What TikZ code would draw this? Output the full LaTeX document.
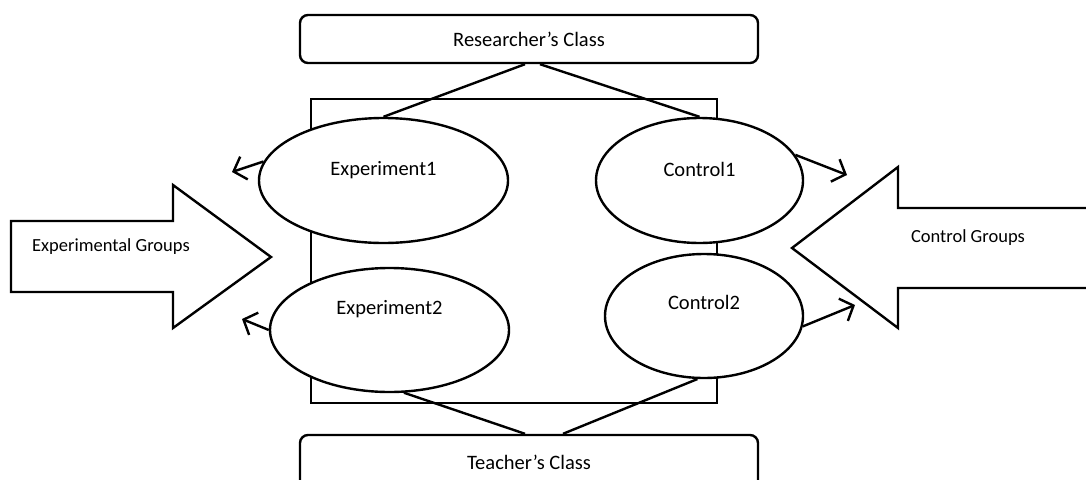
\documentclass[tikz,border=0pt]{standalone}
\usepackage{fontspec}
\setmainfont{Carlito}
\usetikzlibrary{shapes.geometric, arrows.meta}

\begin{document}
\begin{tikzpicture}[x=1pt, y=-1pt, line width=2.4pt,
    classbox/.style={draw, rounded corners=8pt, minimum width=458pt, minimum height=48pt, font=\fontsize{20.5}{24}\selectfont},
    group/.style={draw, fill=white, ellipse, inner sep=0pt},
    grouplabel/.style={font=\fontsize{20.5}{24}\selectfont},
    barb/.style={-{Straight Barb[length=11pt, width=24pt]}},
    bigarrow/.style={draw, fill=white, line join=miter}]
      \useasboundingbox (0,0) rectangle (1086,479);
      \draw (311,99) rectangle (717,403);
      \node[group, minimum width=249pt, minimum height=125pt, label={[grouplabel, yshift=10pt]center:Experiment1}] (exp1) at (383.5,180.5) {};
      \node[group, minimum width=207pt, minimum height=125pt, label={[grouplabel, yshift=11pt]center:Control1}] (ctrl1) at (699.5,180.5) {};
      \node[group, minimum width=239pt, minimum height=124pt, label={[grouplabel, yshift=21pt]center:Experiment2}] (exp2) at (389.5,330) {};
      \node[group, minimum width=198pt, minimum height=124pt, label={[grouplabel, yshift=14pt]center:Control2}] (ctrl2) at (704,316) {};
      \node[classbox] (researcher) at (529,39) {Researcher’s Class};
      \node[classbox, minimum height=55pt] (teacher) at (529,462.5) {Teacher’s Class};
      % lines to the classes
      \draw ([xshift=-4pt]researcher.south) -- (exp1.north);
      \draw ([xshift=11pt]researcher.south) -- (ctrl1.north);
      \draw (exp2.-77) -- ([xshift=-4pt]teacher.north);
      \draw (ctrl2.-96) -- ([xshift=34pt]teacher.north);
      % small arrows
      \coordinate (e1) at (232,172);
      \coordinate (e2) at (242,319);
      \coordinate (c1) at (847,175);
      \coordinate (c2) at (855,305);
      \draw[barb] (exp1.171) -- (e1);
      \draw[barb] (exp2.west) -- (e2);
      \draw[barb] (ctrl1.15) -- (c1);
      \draw[barb] (ctrl2.-6) -- (c2);
      % big arrows
      \draw[bigarrow] (11,221) -- (173,221) -- (173,185) -- (271,257) -- (173,328) -- (173,292) -- (11,292) -- cycle;
      \node[font=\fontsize{18.5}{22}\selectfont] (expgroups) at (111,247) {Experimental Groups};
      \draw[bigarrow] (1100,208) -- (898,208) -- (898,167) -- (792,248) -- (898,328) -- (898,288) -- (1100,288);
      \node[font=\fontsize{18.5}{22}\selectfont] (ctrlgroups) at (968,238) {Control Groups};
\end{tikzpicture}
\end{document}
